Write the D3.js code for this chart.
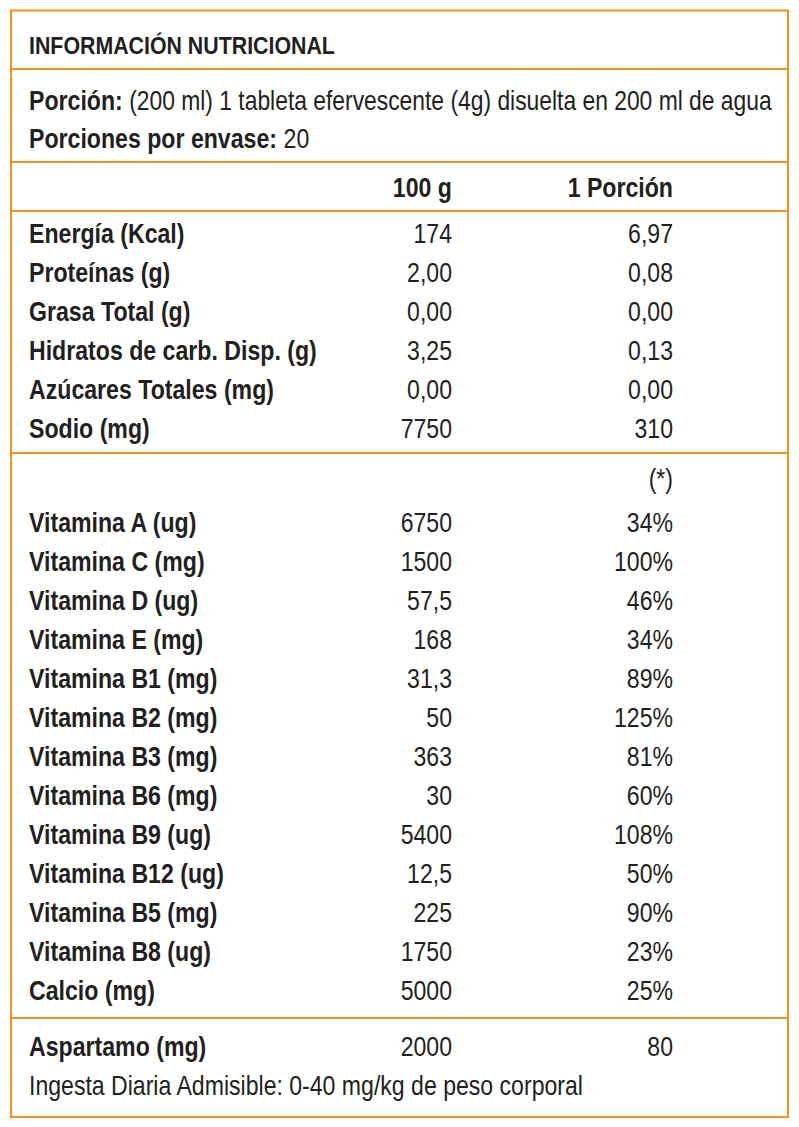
<!DOCTYPE html>
<meta charset="utf-8">
<script src="https://d3js.org/d3.v7.min.js"></script>
<style>
body { margin: 0; background: #fff; }
text { font-family: "Liberation Sans", Arial, sans-serif; fill: #231f20; white-space: pre; }
</style>
<body>
<div id="chart"></div>
<script>
var width = 799, height = 1127
var orange = "#f7901e"

// data
var title = "INFORMACIÓN NUTRICIONAL"
var portionLabel = "Porción:"
var portionText = " (200 ml) 1 tableta efervescente (4g) disuelta en 200 ml de agua"
var perPackLabel = "Porciones por envase:"
var perPackText = " 20"
var columns = ["100 g", "1 Porción"]

var nutrients = ["Energía (Kcal)", "Proteínas (g)", "Grasa Total (g)", "Hidratos de carb. Disp. (g)", "Azúcares Totales (mg)", "Sodio (mg)"]
var nutr100 = ["174", "2,00", "0,00", "3,25", "0,00", "7750"]
var nutrPortion = ["6,97", "0,08", "0,00", "0,13", "0,00", "310"]

var vitamins = ["Vitamina A (ug)", "Vitamina C (mg)", "Vitamina D (ug)", "Vitamina E (mg)", "Vitamina B1 (mg)", "Vitamina B2 (mg)",
  "Vitamina B3 (mg)", "Vitamina B6 (mg)", "Vitamina B9 (ug)", "Vitamina B12 (ug)", "Vitamina B5 (mg)", "Vitamina B8 (ug)", "Calcio (mg)"]
var vit100 = ["6750", "1500", "57,5", "168", "31,3", "50", "363", "30", "5400", "12,5", "225", "1750", "5000"]
var vitPct = ["34%", "100%", "46%", "34%", "89%", "125%", "81%", "60%", "108%", "50%", "90%", "23%", "25%"]

var extra = ["Aspartamo (mg)"]
var extra100 = ["2000"]
var extraPortion = ["80"]
var footnote = "Ingesta Diaria Admisible: 0-40 mg/kg de peso corporal"

var svg = d3.select("#chart").append("svg")
  .attr("width", width)
  .attr("height", height)

var fs = 27
var col = d3.scaleOrdinal().domain(["label", "g100", "portion"]).range([29, 452, 673])
var rowY = d3.scaleLinear().domain([0, 1]).range([0, 39])

// box and separators
svg.append("rect")
  .attr("x", 11).attr("y", 10.5)
  .attr("width", 777).attr("height", 1106.5)
  .attr("fill", "none").attr("stroke", orange).attr("stroke-width", 2)

var seps = [69, 162, 211, 453, 1018]
svg.selectAll("line.sep").data(seps).enter().append("line")
  .attr("class", "sep")
  .attr("x1", 11).attr("x2", 788)
  .attr("y1", d => d).attr("y2", d => d)
  .attr("stroke", orange).attr("stroke-width", 2)

var texts = svg.append("g")

function put(x, y, anchor, kind) {
  kind = kind || "r"
  return texts.append("text")
    .attr("class", kind)
    .attr("data-x", x).attr("data-y", y)
    .attr("text-anchor", anchor || "start")
    .attr("font-weight", kind == "r" ? "normal" : "bold")
    .attr("font-size", fs)
}

var tTitle = put(col("label"), 54, "start", "t").attr("font-size", 24).text(title)

var p1 = put(col("label"), 110, "start", "b").text(portionLabel)
var p2 = put(0, 110).text(portionText)
var q1 = put(col("label"), 148, "start", "b").text(perPackLabel)
var q2 = put(0, 148).text(perPackText)

put(col("g100"), 197, "end", "b").text(columns[0])
put(col("portion"), 197, "end", "b").text(columns[1])

var labelNodes = []
function block(labels, v1, v2, y0) {
  labels.forEach(function(l, i) {
    var y = y0 + rowY(i)
    labelNodes.push(put(col("label"), y, "start", "b").text(l))
    put(col("g100"), y, "end").text(v1[i])
    put(col("portion"), y, "end").text(v2[i])
  })
}
block(nutrients, nutr100, nutrPortion, 243)
put(col("portion"), 488, "end").text("(*)")
block(vitamins, vit100, vitPct, 532)
block(extra, extra100, extraPortion, 1056)
var tFoot = put(col("label"), 1095).text(footnote)

// condensed look: squeeze glyphs to widths measured on the label
var sxT = 306 / tTitle.node().getComputedTextLength()
var sxB = 288 / labelNodes[3].node().getComputedTextLength()
var sxR = 554 / tFoot.node().getComputedTextLength()

// the long serving line is fitted to its right end, the short one keeps the normal squeeze
var x0 = col("label") + p1.node().getComputedTextLength() * sxB
p2.attr("data-x", x0).attr("class", "f")
  .attr("data-sx", (772 - x0) / p2.node().getComputedTextLength())
q2.attr("data-x", col("label") + q1.node().getComputedTextLength() * sxB)

var sxs = { t: sxT, b: sxB, r: sxR }
texts.selectAll("text").each(function() {
  var t = d3.select(this)
  var sx = t.classed("f") ? +t.attr("data-sx") : sxs[t.attr("class")]
  t.attr("transform", "translate(" + t.attr("data-x") + "," + t.attr("data-y") + ") scale(" + sx + ",1)")
})
</script>
</body>
